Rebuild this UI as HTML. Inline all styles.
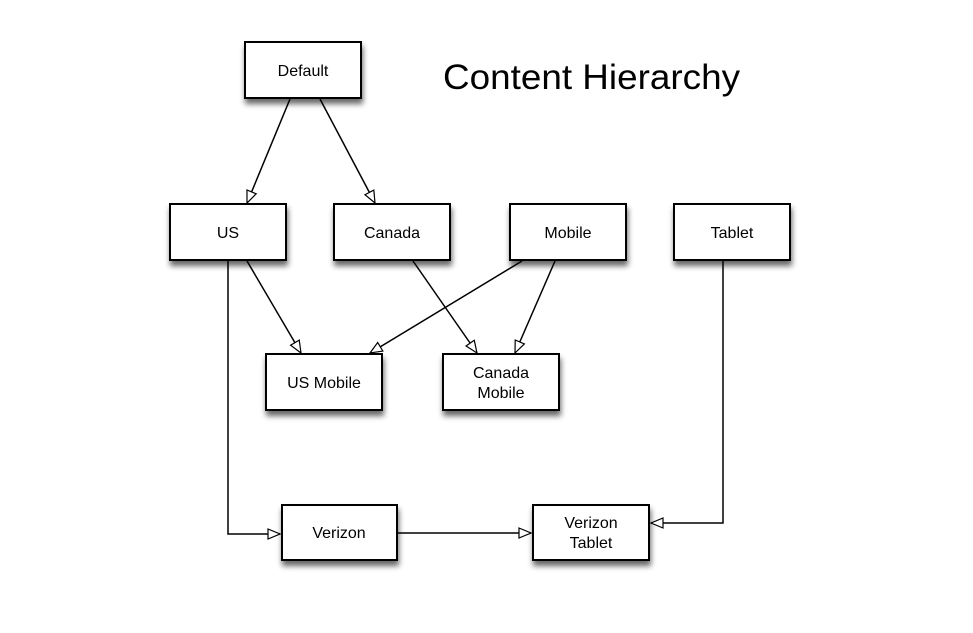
<!DOCTYPE html>
<html><head><style>
html,body{margin:0;padding:0;background:#fff;}
svg{display:block;}
text{font-family:"Liberation Sans",Arial,sans-serif;font-size:16px;fill:#000;}
</style></head><body>
<svg width="973" height="633" viewBox="0 0 973 633">
<defs>
<filter id="sh" x="-20%" y="-20%" width="150%" height="170%">
<feGaussianBlur in="SourceAlpha" stdDeviation="3"/>
<feOffset dx="1" dy="5" result="b"/>
<feComponentTransfer><feFuncA type="linear" slope="0.6"/></feComponentTransfer>
<feMerge><feMergeNode/><feMergeNode in="SourceGraphic"/></feMerge>
</filter>
<marker id="ar" markerWidth="14" markerHeight="12" refX="13" refY="6" orient="auto" markerUnits="userSpaceOnUse">
<path d="M1,1 L13,6 L1,11 Z" fill="#fff" stroke="#000" stroke-width="1.2"/>
</marker>
</defs>
<g fill="#fff" stroke="#000" stroke-width="2" filter="url(#sh)">
<rect x="245" y="42" width="116" height="56"/>
<rect x="170" y="204" width="116" height="56"/>
<rect x="334" y="204" width="116" height="56"/>
<rect x="510" y="204" width="116" height="56"/>
<rect x="674" y="204" width="116" height="56"/>
<rect x="266" y="354" width="116" height="56"/>
<rect x="443" y="354" width="116" height="56"/>
<rect x="282" y="505" width="115" height="55"/>
<rect x="533" y="505" width="116" height="55"/>
</g>
<g stroke="#000" stroke-width="1.5" fill="none" marker-end="url(#ar)">
<line x1="290" y1="99" x2="247" y2="203"/>
<line x1="320" y1="99" x2="375" y2="203"/>
<polyline points="228,261 228,534 280,534"/>
<line x1="247" y1="261" x2="301" y2="353"/>
<line x1="522" y1="261" x2="370" y2="353"/>
<line x1="413" y1="261" x2="477" y2="353"/>
<line x1="555" y1="261" x2="515" y2="353"/>
<line x1="398" y1="533" x2="531" y2="533"/>
<polyline points="723,261 723,523 651,523"/>
</g>
<g text-anchor="middle">
<text x="303" y="76">Default</text>
<text x="228" y="238">US</text>
<text x="392" y="238">Canada</text>
<text x="568" y="238">Mobile</text>
<text x="732" y="238">Tablet</text>
<text x="324" y="388">US Mobile</text>
<text x="501" y="378">Canada</text>
<text x="501" y="398">Mobile</text>
<text x="339" y="538">Verizon</text>
<text x="591" y="528">Verizon</text>
<text x="591" y="548">Tablet</text>
</g>
<text x="443" y="89" style="font-size:35px" textLength="297" lengthAdjust="spacingAndGlyphs">Content Hierarchy</text>
</svg>
</body></html>
